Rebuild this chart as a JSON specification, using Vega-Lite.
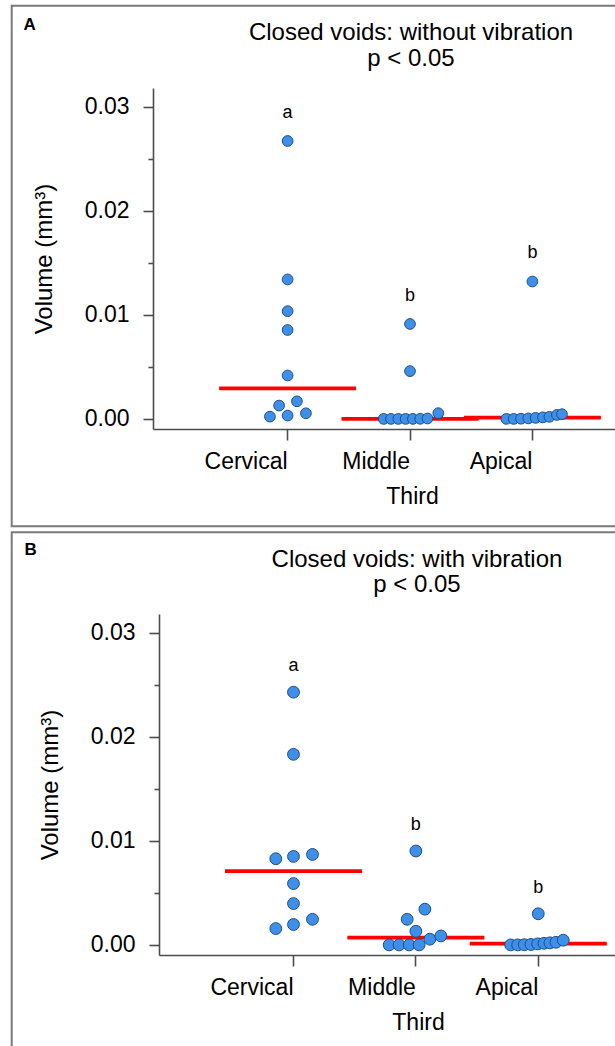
{
  "$schema": "https://vega.github.io/schema/vega-lite/v6.json",
  "padding": {"left": 10, "top": 4, "right": 0, "bottom": 0},
  "background": "white",
  "datasets": {
    "voids": [
      {"panel": "A", "third": "Cervical", "sig": "a", "volume": 0.0267, "swarm": 0},
      {"panel": "A", "third": "Cervical", "sig": "a", "volume": 0.0134, "swarm": 0},
      {"panel": "A", "third": "Cervical", "sig": "a", "volume": 0.01035, "swarm": 0},
      {"panel": "A", "third": "Cervical", "sig": "a", "volume": 0.00854, "swarm": 0},
      {"panel": "A", "third": "Cervical", "sig": "a", "volume": 0.00417, "swarm": 0},
      {"panel": "A", "third": "Cervical", "sig": "a", "volume": 0.00128, "swarm": -8.5},
      {"panel": "A", "third": "Cervical", "sig": "a", "volume": 0.00169, "swarm": 9.3},
      {"panel": "A", "third": "Cervical", "sig": "a", "volume": 0.00022, "swarm": -17.7},
      {"panel": "A", "third": "Cervical", "sig": "a", "volume": 0.00032, "swarm": 0},
      {"panel": "A", "third": "Cervical", "sig": "a", "volume": 0.00054, "swarm": 18.3},
      {"panel": "A", "third": "Middle", "sig": "b", "volume": 0.00912, "swarm": 0},
      {"panel": "A", "third": "Middle", "sig": "b", "volume": 0.00459, "swarm": 0},
      {"panel": "A", "third": "Middle", "sig": "b", "volume": 0, "swarm": -26.3},
      {"panel": "A", "third": "Middle", "sig": "b", "volume": 0, "swarm": -19},
      {"panel": "A", "third": "Middle", "sig": "b", "volume": 0, "swarm": -11.7},
      {"panel": "A", "third": "Middle", "sig": "b", "volume": 0, "swarm": -4.4},
      {"panel": "A", "third": "Middle", "sig": "b", "volume": 0, "swarm": 2.9},
      {"panel": "A", "third": "Middle", "sig": "b", "volume": 0.00001, "swarm": 10.2},
      {"panel": "A", "third": "Middle", "sig": "b", "volume": 0.00004, "swarm": 17.5},
      {"panel": "A", "third": "Middle", "sig": "b", "volume": 0.00055, "swarm": 28.3},
      {"panel": "A", "third": "Apical", "sig": "b", "volume": 0.0132, "swarm": 0},
      {"panel": "A", "third": "Apical", "sig": "b", "volume": 0, "swarm": -26},
      {"panel": "A", "third": "Apical", "sig": "b", "volume": 0, "swarm": -18.7},
      {"panel": "A", "third": "Apical", "sig": "b", "volume": 0.00002, "swarm": -11.4},
      {"panel": "A", "third": "Apical", "sig": "b", "volume": 0.00005, "swarm": -4.1},
      {"panel": "A", "third": "Apical", "sig": "b", "volume": 0.0001, "swarm": 3.2},
      {"panel": "A", "third": "Apical", "sig": "b", "volume": 0.00015, "swarm": 10.5},
      {"panel": "A", "third": "Apical", "sig": "b", "volume": 0.0002, "swarm": 17},
      {"panel": "A", "third": "Apical", "sig": "b", "volume": 0.00038, "swarm": 24.5},
      {"panel": "A", "third": "Apical", "sig": "b", "volume": 0.00045, "swarm": 29.6},
      {"panel": "B", "third": "Cervical", "sig": "a", "volume": 0.02428, "swarm": 0},
      {"panel": "B", "third": "Cervical", "sig": "a", "volume": 0.01831, "swarm": 0},
      {"panel": "B", "third": "Cervical", "sig": "a", "volume": 0.00828, "swarm": -17.7},
      {"panel": "B", "third": "Cervical", "sig": "a", "volume": 0.0085, "swarm": 0},
      {"panel": "B", "third": "Cervical", "sig": "a", "volume": 0.00869, "swarm": 19},
      {"panel": "B", "third": "Cervical", "sig": "a", "volume": 0.00589, "swarm": 0},
      {"panel": "B", "third": "Cervical", "sig": "a", "volume": 0.00397, "swarm": 0},
      {"panel": "B", "third": "Cervical", "sig": "a", "volume": 0.00157, "swarm": -17.7},
      {"panel": "B", "third": "Cervical", "sig": "a", "volume": 0.00196, "swarm": 0},
      {"panel": "B", "third": "Cervical", "sig": "a", "volume": 0.00246, "swarm": 19},
      {"panel": "B", "third": "Middle", "sig": "b", "volume": 0.00902, "swarm": 0},
      {"panel": "B", "third": "Middle", "sig": "b", "volume": 0.00343, "swarm": 9},
      {"panel": "B", "third": "Middle", "sig": "b", "volume": 0.00246, "swarm": -8.7},
      {"panel": "B", "third": "Middle", "sig": "b", "volume": 0.00131, "swarm": 0},
      {"panel": "B", "third": "Middle", "sig": "b", "volume": 0.00055, "swarm": 14},
      {"panel": "B", "third": "Middle", "sig": "b", "volume": 0.00086, "swarm": 25},
      {"panel": "B", "third": "Middle", "sig": "b", "volume": 0, "swarm": -26.7},
      {"panel": "B", "third": "Middle", "sig": "b", "volume": 0, "swarm": -16.7},
      {"panel": "B", "third": "Middle", "sig": "b", "volume": 0, "swarm": -6.7},
      {"panel": "B", "third": "Middle", "sig": "b", "volume": 0, "swarm": 3.3},
      {"panel": "B", "third": "Apical", "sig": "b", "volume": 0.00299, "swarm": 0},
      {"panel": "B", "third": "Apical", "sig": "b", "volume": 0, "swarm": -27.6},
      {"panel": "B", "third": "Apical", "sig": "b", "volume": 0, "swarm": -20.6},
      {"panel": "B", "third": "Apical", "sig": "b", "volume": 0.00002, "swarm": -14},
      {"panel": "B", "third": "Apical", "sig": "b", "volume": 0.00004, "swarm": -7.3},
      {"panel": "B", "third": "Apical", "sig": "b", "volume": 0.0001, "swarm": -0.6},
      {"panel": "B", "third": "Apical", "sig": "b", "volume": 0.00015, "swarm": 5.7},
      {"panel": "B", "third": "Apical", "sig": "b", "volume": 0.0002, "swarm": 11.7},
      {"panel": "B", "third": "Apical", "sig": "b", "volume": 0.00025, "swarm": 17.7},
      {"panel": "B", "third": "Apical", "sig": "b", "volume": 0.00045, "swarm": 25}
    ]
  },
  "vconcat": [
    {
      "width": 514,
      "height": 341,
      "title": {"text": ["Closed voids: without vibration", "p < 0.05"], "dx": 1},
      "layer": [
        {
          "data": {"values": [{"label": "A"}]},
          "mark": {"type": "rect", "fill": null, "stroke": "#7a7a7a", "strokeWidth": 2},
          "encoding": {
            "x": {"value": -141.3}, "x2": {"value": 540},
            "y": {"value": -82.3}, "y2": {"value": 438.3}
          }
        },
        {
          "data": {"values": [{"label": "A"}]},
          "mark": {"type": "text", "font": "Liberation Sans", "fontWeight": "bold", "fontSize": 17, "align": "left", "baseline": "alphabetic", "color": "black"},
          "encoding": {"text": {"field": "label"}, "x": {"value": -129.5}, "y": {"value": -57.7}}
        },
        {
          "data": {"name": "voids"},
          "transform": [{"filter": "datum.panel === 'A'"}],
          "mark": {"type": "tick", "color": "#ff0000", "thickness": 3.7, "size": 137, "opacity": 1, "orient": "horizontal"},
          "encoding": {
            "x": {"field": "third", "type": "nominal", "title": "Third"},
            "y": {"aggregate": "median", "field": "volume", "type": "quantitative", "title": "Volume (mm³)"}
          }
        },
        {
          "data": {"name": "voids"},
          "transform": [{"filter": "datum.panel === 'A'"}],
          "mark": {"type": "point", "filled": true, "size": 115, "opacity": 1, "fill": "#3d8fe8", "stroke": "#1f4f8a", "strokeWidth": 1},
          "encoding": {
            "x": {"field": "third", "type": "nominal", "title": "Third",
                  "scale": {"domain": ["Cervical", "Middle", "Apical"], "paddingInner": 0, "paddingOuter": 0.6},
                  "axis": {"labelAngle": 0, "tickSize": 11, "labelPadding": 21, "titlePadding": 12, "titleX": 259}},
            "xOffset": {"field": "swarm", "type": "quantitative", "scale": {"domain": [-61.19, 61.19], "range": [0, 122.38]}},
            "y": {"field": "volume", "type": "quantitative", "title": "Volume (mm³)",
                  "scale": {"domain": [-0.00097, 0.03179], "nice": false, "zero": false},
                  "axis": {
                    "values": [0, 0.005, 0.01, 0.015, 0.02, 0.025, 0.03],
                    "labelExpr": "abs(datum.value*100 - round(datum.value*100)) < 0.001 ? format(datum.value, '.2f') : ''",
                    "tickSize": {"condition": {"test": "abs(datum.value*100 - round(datum.value*100)) < 0.001", "value": 10}, "value": 5},
                    "labelPadding": 14, "titlePadding": 27.5, "titleFontSize": 24, "labelOverlap": false
                  }}
          }
        },
        {
          "data": {"name": "voids"},
          "transform": [{"filter": "datum.panel === 'A'"}],
          "mark": {"type": "text", "dy": -28.3, "fontSize": 18, "font": "Liberation Sans", "baseline": "middle", "color": "black"},
          "encoding": {
            "x": {"field": "third", "type": "nominal", "title": "Third"},
            "y": {"aggregate": "max", "field": "volume", "type": "quantitative", "title": "Volume (mm³)"},
            "text": {"field": "sig"}
          }
        }
      ]
    },
    {
      "width": 514,
      "height": 341,
      "title": {"text": ["Closed voids: with vibration", "p < 0.05"], "dx": 7},
      "layer": [
        {
          "data": {"values": [{"label": "B"}]},
          "mark": {"type": "rect", "fill": null, "stroke": "#7a7a7a", "strokeWidth": 2},
          "encoding": {
            "x": {"value": -141.3}, "x2": {"value": 540},
            "y": {"value": -81.7}, "y2": {"value": 560}
          }
        },
        {
          "data": {"values": [{"label": "B"}]},
          "mark": {"type": "text", "font": "Liberation Sans", "fontWeight": "bold", "fontSize": 17, "align": "left", "baseline": "alphabetic", "color": "black"},
          "encoding": {"text": {"field": "label"}, "x": {"value": -128.5}, "y": {"value": -59}}
        },
        {
          "data": {"name": "voids"},
          "transform": [{"filter": "datum.panel === 'B'"}],
          "mark": {"type": "tick", "color": "#ff0000", "thickness": 3.7, "size": 137, "opacity": 1, "orient": "horizontal"},
          "encoding": {
            "x": {"field": "third", "type": "nominal", "title": "Third"},
            "y": {"aggregate": "median", "field": "volume", "type": "quantitative", "title": "Volume (mm³)"}
          }
        },
        {
          "data": {"name": "voids"},
          "transform": [{"filter": "datum.panel === 'B'"}],
          "mark": {"type": "point", "filled": true, "size": 140, "opacity": 1, "fill": "#3d8fe8", "stroke": "#1f4f8a", "strokeWidth": 1},
          "encoding": {
            "x": {"field": "third", "type": "nominal", "title": "Third",
                  "scale": {"domain": ["Cervical", "Middle", "Apical"], "paddingInner": 0, "paddingOuter": 0.6, "align": 0.54},
                  "axis": {"labelAngle": 0, "tickSize": 11, "labelPadding": 21, "titlePadding": 12, "titleX": 265, "domainDash": [0, 6, 3000, 0]}},
            "xOffset": {"field": "swarm", "type": "quantitative", "scale": {"domain": [-61.19, 61.19], "range": [0, 122.38]}},
            "y": {"field": "volume", "type": "quantitative", "title": "Volume (mm³)",
                  "scale": {"domain": [-0.00097, 0.03179], "nice": false, "zero": false},
                  "axis": {
                    "offset": -6,
                    "values": [0, 0.005, 0.01, 0.015, 0.02, 0.025, 0.03],
                    "labelExpr": "abs(datum.value*100 - round(datum.value*100)) < 0.001 ? format(datum.value, '.2f') : ''",
                    "tickSize": {"condition": {"test": "abs(datum.value*100 - round(datum.value*100)) < 0.001", "value": 10}, "value": 5},
                    "labelPadding": 14, "titlePadding": 27.5, "titleFontSize": 24, "labelOverlap": false
                  }}
          }
        },
        {
          "data": {"name": "voids"},
          "transform": [{"filter": "datum.panel === 'B'"}],
          "mark": {"type": "text", "dy": -26, "fontSize": 18, "font": "Liberation Sans", "baseline": "middle", "color": "black"},
          "encoding": {
            "x": {"field": "third", "type": "nominal", "title": "Third"},
            "y": {"aggregate": "max", "field": "volume", "type": "quantitative", "title": "Volume (mm³)"},
            "text": {"field": "sig"}
          }
        }
      ]
    }
  ],
  "bounds": "full",
  "spacing": 3,
  "config": {
    "font": "Liberation Sans",
    "view": {"stroke": null},
    "axis": {
      "domainColor": "#4d4d4d", "domainWidth": 1.6,
      "tickColor": "#4d4d4d", "tickWidth": 1.6,
      "labelFont": "Liberation Sans", "labelFontSize": 23, "labelColor": "black",
      "titleFont": "Liberation Sans", "titleFontSize": 23, "titleFontWeight": "normal", "titleColor": "black",
      "grid": false
    },
    "title": {
      "font": "Liberation Sans", "fontSize": 24, "fontWeight": "normal", "color": "black",
      "anchor": "middle", "frame": "group", "lineHeight": 25.4, "offset": -66
    }
  }
}
